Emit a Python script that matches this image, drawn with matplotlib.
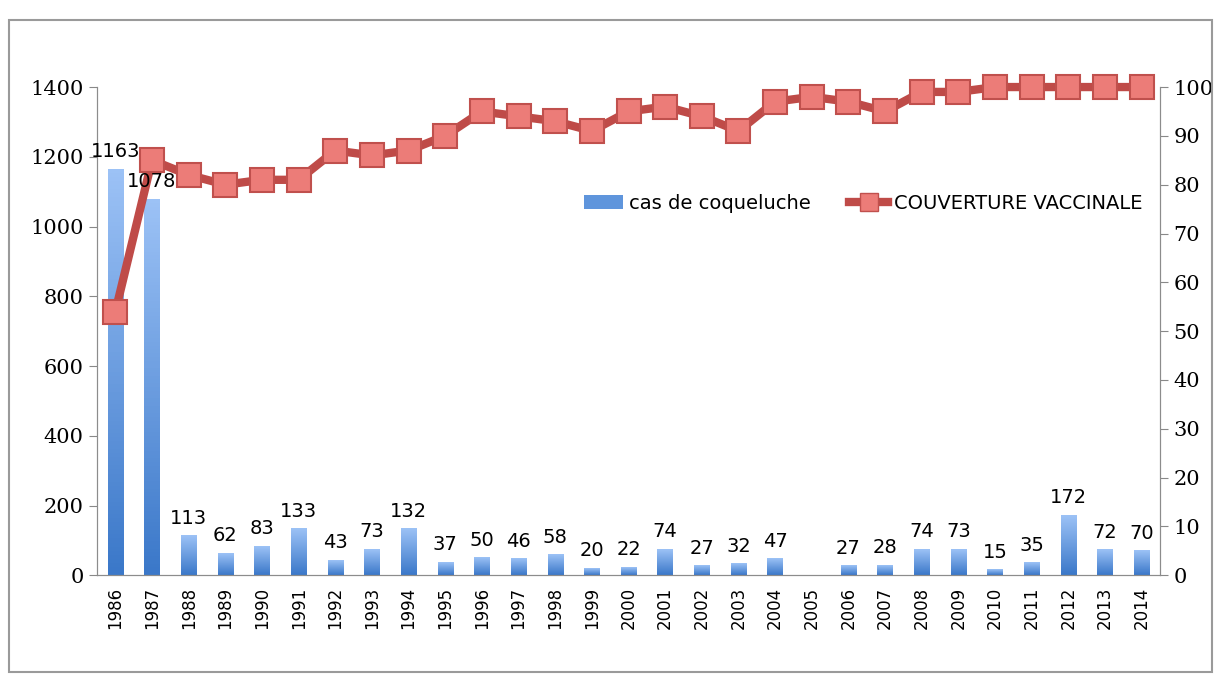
import numpy as np
import matplotlib.pyplot as plt
from matplotlib.colors import LinearSegmentedColormap
from matplotlib.patches import Rectangle, Patch
from matplotlib.lines import Line2D

# data
years = list(range(1986, 2015))
cases = [1163, 1078, 113, 62, 83, 133, 43, 73, 132, 37, 50, 46, 58, 20, 22,
         74, 27, 32, 47, None, 27, 28, 74, 73, 15, 35, 172, 72, 70]
coverage = [54, 85, 82, 80, 81, 81, 87, 86, 87, 90, 95, 94, 93, 91, 95,
            96, 94, 91, 97, 98, 97, 95, 99, 99, 100, 100, 100, 100, 100]

fig = plt.figure(figsize=(12.19, 6.8), dpi=100)
fig.patches.append(Rectangle((0.007, 0.012), 0.987, 0.958, transform=fig.transFigure,
                             fill=False, edgecolor="#9a9a9a", linewidth=1.5))

ax = fig.add_axes([0.0796, 0.154, 0.872, 0.718])
ax2 = ax.twinx()

grad = LinearSegmentedColormap.from_list("bar", ["#3b78c9", "#9cc2f6"])
x = np.arange(len(years))
w = 0.42
for xi, v in zip(x, cases):
    if v is None:
        continue
    img = np.linspace(0, 1, 100).reshape(-1, 1)
    ax.imshow(img, cmap=grad, origin="lower", aspect="auto",
              extent=(xi - w / 2, xi + w / 2, 0, v), zorder=2)

ax.set_xlim(-0.5, len(years) - 0.5)
ax.set_ylim(0, 1400)
ax.set_yticks(range(0, 1401, 200))
ax.set_xticks(x)
ax.set_xticklabels([str(y) for y in years], rotation=90, fontsize=12,
                   family="DejaVu Sans")
ax.tick_params(axis="x", length=0, pad=8)
ax.tick_params(axis="y", length=6, color="#888888", labelsize=15)
for lbl in ax.get_yticklabels():
    lbl.set_family("DejaVu Serif")

ax2.plot(x, coverage, color="#bf4b48", linewidth=6, marker="s", markersize=17,
         markerfacecolor="#ec7c78", markeredgecolor="#c0504d", markeredgewidth=1.5,
         zorder=3, clip_on=False)
ax2.set_ylim(0, 100)
ax2.set_yticks(range(0, 101, 10))
ax2.tick_params(axis="y", length=6, color="#888888", labelsize=15)
for lbl in ax2.get_yticklabels():
    lbl.set_family("DejaVu Serif")

for a in (ax, ax2):
    a.spines["top"].set_visible(False)
    for s in ("left", "right", "bottom"):
        a.spines[s].set_color("#8c8c8c")

# data labels drawn above the line
for xi, v in zip(x, cases):
    if v is None:
        continue
    ax2.annotate(str(v), (xi, v), xycoords=ax.transData, xytext=(0, 6),
                 textcoords="offset points", ha="center", va="bottom",
                 fontsize=14, zorder=5)

handles = [Patch(facecolor="#5f95dc", edgecolor="none"),
           Line2D([0], [0], color="#bf4b48", linewidth=6, marker="s", markersize=13,
                  markerfacecolor="#ec7c78", markeredgecolor="#c0504d")]
ax2.legend(handles, ["cas de coqueluche", "COUVERTURE VACCINALE"], ncol=2,
           loc="center right", bbox_to_anchor=(1.0, 0.762), frameon=False,
           fontsize=14, handlelength=2, columnspacing=2, handletextpad=0.3)

fig.savefig("out.png", dpi=100)
